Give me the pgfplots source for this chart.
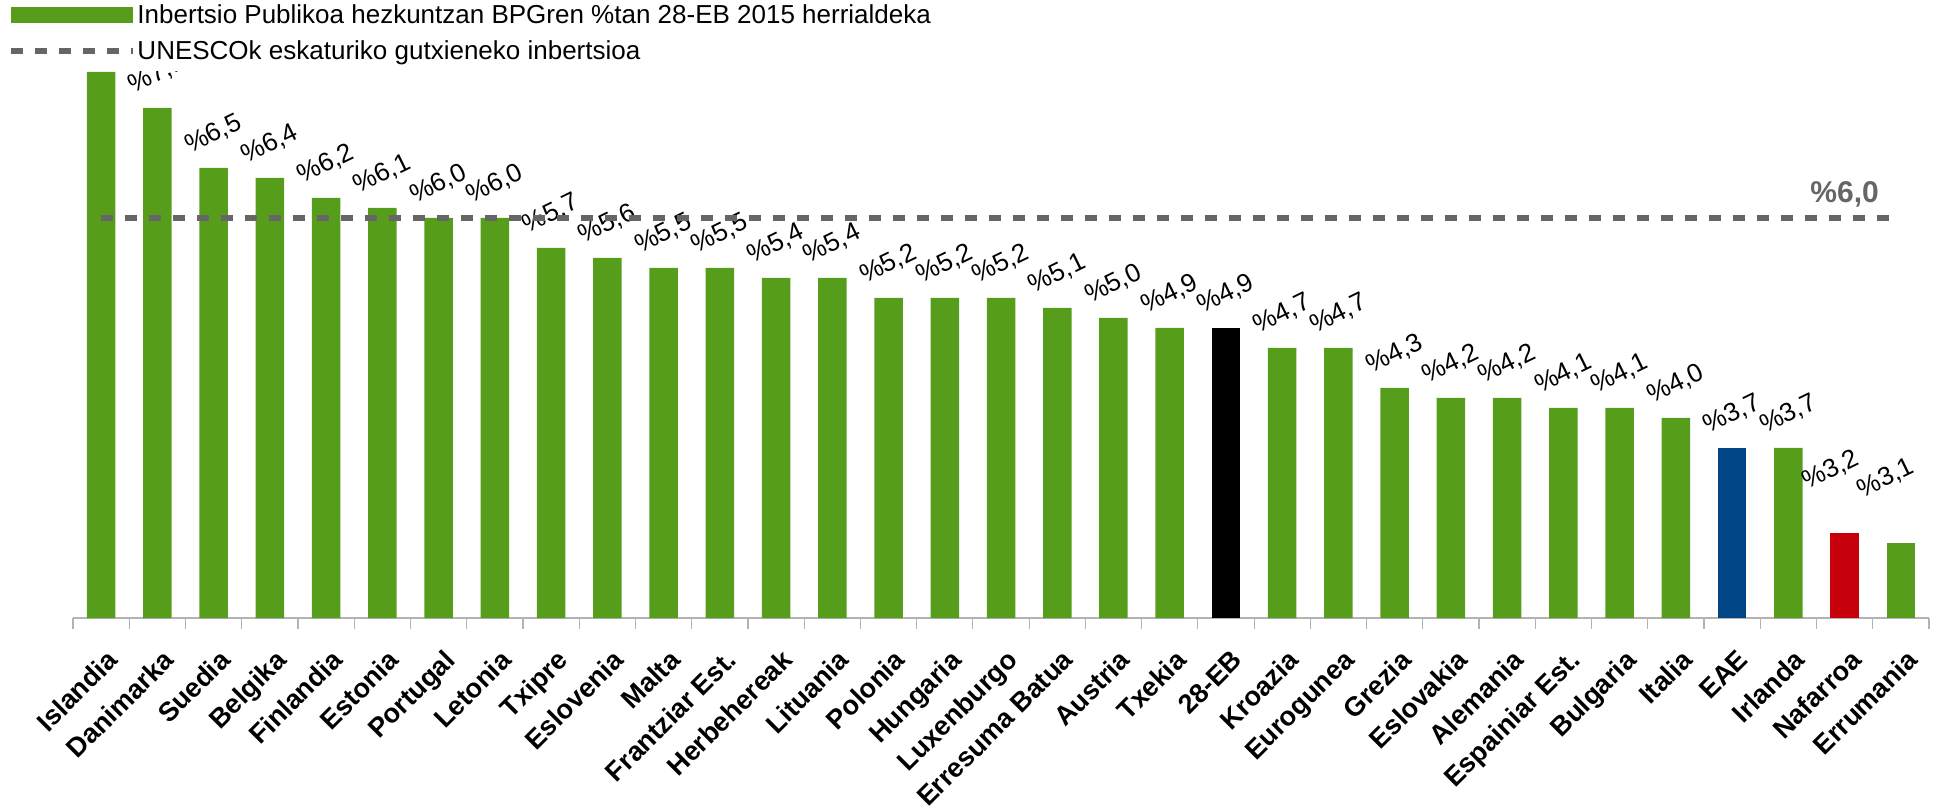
\documentclass[border=0pt]{standalone}
\usepackage{fontspec}
\setmainfont{Liberation Sans}
\usepackage{pgfplots}
\usepackage{pgfplotstable}
\pgfplotsset{compat=1.18}

\definecolor{barGreen}{HTML}{579D1C}
\definecolor{eaeBlue}{HTML}{004586}
\definecolor{navRed}{HTML}{C5000B}
\definecolor{lineGray}{HTML}{666666}
\definecolor{axisGray}{HTML}{B3B3B3}

% x = position, y = bar height as drawn, lab = printed label
\pgfplotstableread{
x y lab
0 7.46 7,5
1 7.1 7,1
2 6.5 6,5
3 6.4 6,4
4 6.2 6,2
5 6.1 6,1
6 6.0 6,0
7 6.0 6,0
8 5.7 5,7
9 5.6 5,6
10 5.5 5,5
11 5.5 5,5
12 5.4 5,4
13 5.4 5,4
14 5.2 5,2
15 5.2 5,2
16 5.2 5,2
17 5.1 5,1
18 5.0 5,0
19 4.9 4,9
21 4.7 4,7
22 4.7 4,7
23 4.3 4,3
24 4.2 4,2
25 4.2 4,2
26 4.1 4,1
27 4.1 4,1
28 4.0 4,0
30 3.7 3,7
}\greenbars
\pgfplotstableread{
x y lab
20 4.9 4,9
}\eubar
\pgfplotstableread{
x y lab
29 3.7 3,7
}\eaebar
% the last two bars are drawn lower than their labels in the source
\pgfplotstableread{
x y lab
31 2.85 3,2
}\navbar
\pgfplotstableread{
x y lab
32 2.75 3,1
}\robar

\begin{document}
\begin{tikzpicture}
\begin{axis}[
  scale only axis,
  width=928pt, height=273pt,
  xmin=-0.5, xmax=32.5, ymin=2, ymax=7.46,
  axis x line*=bottom, axis y line=none,
  ytick=\empty,
  xtick={0,...,32},
  xticklabels={Islandia, Danimarka, Suedia, Belgika, Finlandia, Estonia, Portugal, Letonia, Txipre, Eslovenia, Malta, Frantziar Est., Herbehereak, Lituania, Polonia, Hungaria, Luxenburgo, Erresuma Batua, Austria, Txekia, 28-EB, Kroazia, Eurogunea, Grezia, Eslovakia, Alemania, Espainiar Est., Bulgaria, Italia, EAE, Irlanda, Nafarroa, Errumania},
  minor xtick={-0.5,0.5,...,32.5},
  major tick length=0pt, minor tick length=5.5pt,
  tick align=outside,
  every tick/.style={axisGray, line width=0.6pt},
  axis line style={axisGray, line width=0.6pt},
  xticklabel style={font=\bfseries\fontsize{13.5}{16}\selectfont, rotate=45, anchor=north east, inner sep=0pt, yshift=-12pt, xshift=-9pt},
  clip=true, clip marker paths=true,
  point meta=explicit symbolic,
  nodes near coords={\%\pgfplotspointmeta},
  every node near coord/.style={font=\fontsize{13}{15}\selectfont, black, anchor=center, yshift=17pt, rotate=26},
  legend cell align=left,
  legend style={draw=none, fill=none, inner sep=0pt, outer sep=0pt,
    at={(axis description cs:0,1)}, anchor=south west, xshift=-32.5pt, yshift=3pt,
    row sep=6pt, column sep=1pt,
    font=\fontsize{13}{15}\selectfont,
    nodes={inner sep=0pt, text height=9pt, text depth=3pt}},
]
\addplot[ybar, bar width=14.25pt, bar shift=0pt, fill=barGreen, draw=none,
  legend image code/.code={\fill[barGreen] (0pt,-2.5pt) rectangle (61pt,5.5pt);}]
  table[x=x, y=y, meta=lab] {\greenbars};
\addlegendentry{Inbertsio Publikoa hezkuntzan BPGren \%tan 28-EB 2015 herrialdeka}
\addplot[ybar, bar width=14.25pt, bar shift=0pt, fill=black, draw=none, forget plot]
  table[x=x, y=y, meta=lab] {\eubar};
\addplot[ybar, bar width=14.25pt, bar shift=0pt, fill=eaeBlue, draw=none, forget plot]
  table[x=x, y=y, meta=lab] {\eaebar};
\addplot[ybar, bar width=14.25pt, bar shift=0pt, fill=navRed, draw=none, forget plot,
  every node near coord/.append style={yshift=16pt}]
  table[x=x, y=y, meta=lab] {\navbar};
\addplot[ybar, bar width=14.25pt, bar shift=0pt, fill=barGreen, draw=none, forget plot,
  every node near coord/.append style={yshift=17pt}]
  table[x=x, y=y, meta=lab] {\robar};
\addplot[lineGray, line width=2.75pt, dash pattern=on 6pt off 6pt, no marks, nodes near coords={},
  legend image code/.code={\draw[lineGray, line width=2.75pt, dash pattern=on 6pt off 6pt] (0pt,1.5pt) -- (61pt,1.5pt);}]
  coordinates {(0,6) (32,6)};
\addlegendentry{UNESCOk eskaturiko gutxieneko inbertsioa}
\node[font=\bfseries\fontsize{15}{17}\selectfont, text=lineGray, anchor=base, inner sep=0pt]
  at (axis cs:31,6) [yshift=7.5pt] {\%6,0};
\end{axis}
\pgfresetboundingbox
\path (current axis.south west) ++(-36.5pt,-95pt) coordinate (bbsw);
\path (current axis.north east) ++(7pt,36pt) coordinate (bbne);
\path[use as bounding box] (bbsw) rectangle (bbne);
\end{tikzpicture}
\end{document}
